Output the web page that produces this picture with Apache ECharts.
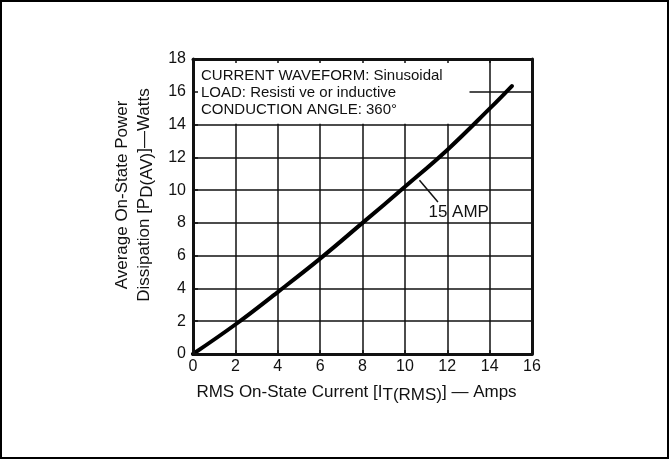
<!DOCTYPE html>
<html>
<head>
<meta charset="utf-8">
<title>Power dissipation vs RMS current</title>
<script src="https://cdn.jsdelivr.net/npm/echarts@6/dist/echarts.min.js"></script>
<style>
  html, body { margin: 0; padding: 0; background: #fff; }
  #chart { width: 669px; height: 459px; }
</style>
</head>
<body>
<div id="chart"></div>
<script>
// 15 A curve
const currentAmps = [0, 2, 4, 6, 8, 10, 12, 14, 15.05];
const powerWatts = [0, 1.8, 3.78, 5.82, 8.0, 10.2, 12.45, 14.97, 16.35];

const noteLines = [
  "CURRENT WAVEFORM: Sinusoidal",
  "LOAD: Resisti ve or inductive",
  "CONDUCTION ANGLE: 360°"
];
const curveName = "15 AMP";

const font = "Liberation Sans, Arial, sans-serif";
const ink = "#111";

const chart = echarts.init(document.getElementById("chart"));

const xBase = { type: "value", min: 0, max: 16, interval: 2 };
const yBase = { type: "value", min: 0, max: 18, interval: 2 };
const frameLine = { show: true, onZero: false, lineStyle: { color: ink, width: 3 } };
const innerTick = (len) => ({ show: true, inside: true, length: len, lineStyle: { color: ink, width: 1.5 } });
const noLabel = { show: false };
const tickLabel = { color: ink, fontSize: 16, fontFamily: font };

const titleRich = {
  t: { fontSize: 17, fontFamily: font, color: ink, lineHeight: 17, verticalAlign: "top" },
  t1: { fontSize: 17, fontFamily: font, color: ink, lineHeight: 22, verticalAlign: "top" },
  s: { fontSize: 17, fontFamily: font, color: ink, lineHeight: 17, padding: [6, 0, 0, 0] }
};

const option = {
  animation: false,
  backgroundColor: "#fff",
  grid: { left: 193, right: 137, top: 59, bottom: 105 },
  graphic: [{
    type: "rect", z: 100,
    shape: { x: 1, y: 1, width: 667, height: 457 },
    style: { fill: "none", stroke: "#000", lineWidth: 2 }
  }],
  xAxis: [
    // grid lines only
    Object.assign({}, xBase, {
      z: 0,
      axisLine: { show: false }, axisTick: { show: false }, axisLabel: noLabel,
      splitLine: { show: true, lineStyle: { color: ink, width: 1.5 } }
    }),
    // bottom frame + labels
    Object.assign({}, xBase, {
      position: "bottom", z: 10,
      axisLine: frameLine, axisTick: innerTick(4), splitLine: { show: false },
      axisLabel: Object.assign({ margin: 5 }, tickLabel),
      name: "{t|RMS On-State Current [I}{s|T(RMS)}{t|] — Amps}",
      nameLocation: "middle", nameGap: 30,
      nameTextStyle: { rich: titleRich, padding: [0, 12, 0, 0] }
    }),
    // top frame
    Object.assign({}, xBase, {
      position: "top", z: 10,
      axisLine: frameLine, axisTick: innerTick(4), axisLabel: noLabel, splitLine: { show: false }
    })
  ],
  yAxis: [
    Object.assign({}, yBase, {
      z: 0,
      axisLine: { show: false }, axisTick: { show: false }, axisLabel: noLabel,
      splitLine: { show: true, lineStyle: { color: ink, width: 1.5 } }
    }),
    Object.assign({}, yBase, {
      position: "left", z: 10,
      axisLine: frameLine, axisTick: innerTick(5), splitLine: { show: false },
      axisLabel: Object.assign({ margin: 7 }, tickLabel),
      name: "{t1|Average On-State Power}\n{t|Dissipation [P}{s|D(AV)}{t|]—Watts}",
      nameLocation: "middle", nameGap: 40,
      nameTextStyle: { rich: titleRich, align: "center", padding: [0, 0, 0, 23] }
    }),
    Object.assign({}, yBase, {
      position: "right", z: 10,
      axisLine: frameLine, axisTick: { show: false }, axisLabel: noLabel, splitLine: { show: false }
    })
  ],
  series: [{
    type: "line",
    xAxisIndex: 0,
    yAxisIndex: 0,
    z: 5,
    data: currentAmps.map((x, i) => [x, powerWatts[i]]),
    showSymbol: false,
    smooth: 0.4,
    silent: true,
    lineStyle: { color: "#000", width: 4, cap: "round" },
    markArea: {
      silent: true,
      itemStyle: { color: "#fff", opacity: 1, borderWidth: 0 },
      label: {
        show: true,
        position: "insideTopLeft",
        distance: 8,
        formatter: noteLines.join("\n"),
        color: ink, fontSize: 15, lineHeight: 17, fontFamily: font
      },
      data: [[{ coord: [0, 14.05] }, { coord: [13.05, 18] }]]
    },
    markLine: {
      silent: true,
      symbol: ["none", "none"],
      label: { show: false },
      lineStyle: { color: ink, width: 1.5, type: "solid" },
      data: [[{ coord: [10.69, 10.6] }, { coord: [11.56, 9.28] }]]
    },
    markPoint: {
      silent: true,
      symbol: "circle",
      symbolSize: 1,
      itemStyle: { color: "rgba(0,0,0,0)" },
      label: {
        show: true, position: "inside", formatter: curveName,
        color: ink, fontSize: 17, fontFamily: font
      },
      data: [{ coord: [12.54, 8.64] }]
    }
  }]
};

chart.setOption(option);
</script>
</body>
</html>
